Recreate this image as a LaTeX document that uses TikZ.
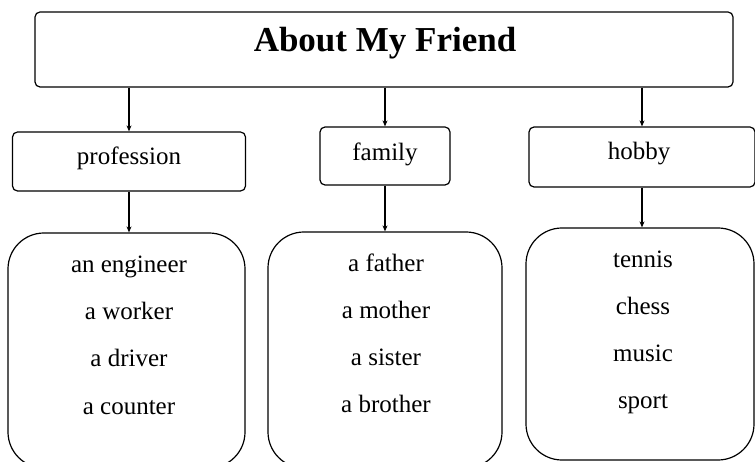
\documentclass[tikz,border=0pt]{standalone}
\usepackage{fontspec}
\setmainfont{Liberation Serif}
\usetikzlibrary{arrows.meta}
\begin{document}
\begin{tikzpicture}[x=1bp,y=-1bp,
  frame/.style={draw, line width=1.2bp, rounded corners=5bp, inner sep=0pt},
  listbox/.style={draw, line width=1.2bp, rounded corners=36bp, inner sep=0pt},
  wordtext/.style={font=\fontsize{25bp}{30bp}\selectfont, anchor=base, inner sep=0pt},
  titletext/.style={font=\fontsize{35bp}{40bp}\selectfont\bfseries, anchor=base, inner sep=0pt},
  link/.style={line width=1.1bp, -{Stealth[length=6bp,width=5bp]}}
]
\useasboundingbox (0,0) rectangle (755,462);

% heading box
\node[frame, minimum width=698bp, minimum height=75bp] (top) at (384,49.5) {};
\node[titletext] (title) at (385,52) {About My Friend};

% category boxes
\node[frame, minimum width=233bp, minimum height=59bp] (prof) at (129,161.5) {};
\node[frame, minimum width=130bp, minimum height=58bp] (fam) at (385,156) {};
\node[frame, minimum width=226bp, minimum height=60bp] (hob) at (642,157) {};
\node[wordtext] (proft) at (129,165) {profession};
\node[wordtext] (famt) at (385,161) {family};
\node[wordtext] (hobt) at (639,160) {hobby};

% word lists (the first two run past the lower edge)
\node[listbox, minimum width=237bp, minimum height=235bp] (profl) at (126.5,350.5) {};
\node[listbox, minimum width=234bp, minimum height=236bp] (faml) at (385,350) {};
\node[listbox, minimum width=228bp, minimum height=232bp] (hobl) at (640,344) {};

\foreach \w [count=\i] in {an engineer, a worker, a driver, a counter}
  \node[wordtext] (pw\i) at (129,273+47*\i-47) {\w};
\foreach \w [count=\i] in {a father, a mother, a sister, a brother}
  \node[wordtext] (fw\i) at (386,272+46.7*\i-46.7) {\w};
\foreach \w [count=\i] in {tennis, chess, music, sport}
  \node[wordtext] (hw\i) at (643,268+46.7*\i-46.7) {\w};

% connectors
\draw[link] (top.south -| prof.north) -- (prof.north);
\draw[link] (top.south -| fam.north) -- (fam.north);
\draw[link] (top.south -| hob.north) -- (hob.north);
\draw[link] (prof.south) -- (prof.south |- profl.north);
\draw[link] (fam.south) -- (fam.south |- faml.north);
\draw[link] (hob.south) -- (hob.south |- hobl.north);
\end{tikzpicture}
\end{document}
